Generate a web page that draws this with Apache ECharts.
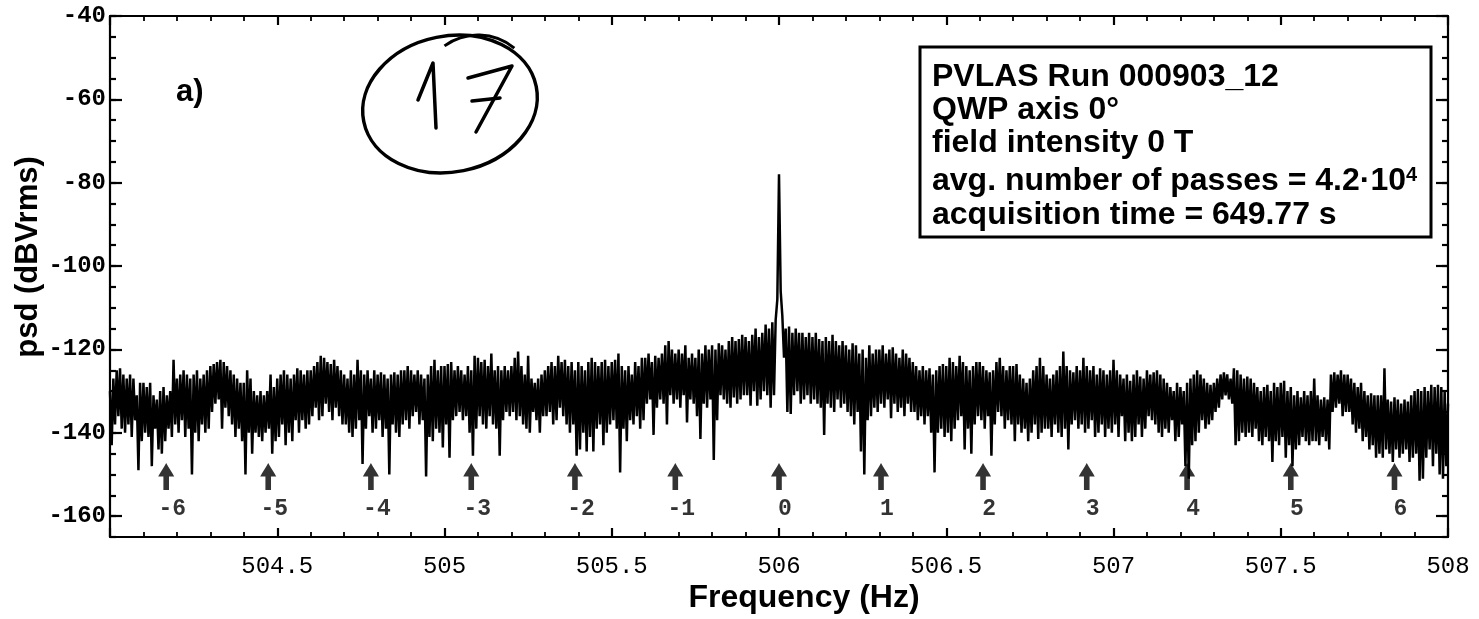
<!DOCTYPE html>
<html>
<head>
<meta charset="utf-8">
<style>
  html, body { margin: 0; padding: 0; background: #fff; }
  #chart { width: 1479px; height: 619px; }
</style>
<script src="https://cdn.jsdelivr.net/npm/echarts@6/dist/echarts.min.js"></script>
</head>
<body>
<div id="chart"></div>
<script>
// Power spectral density around the 506 Hz modulation line.
// Each 0.01 Hz bin holds the local maximum (upper) followed by the local minimum (lower).
const FREQ_START = 504.0;
const BIN = 0.01;

const PSD_UPPER = [
  -130, -127, -125, -124.5, -126, -127, -126, -127, -131, -128,
  -128, -129, -128, -131, -132, -130, -129, -131, -130, -122.5,
  -127, -126, -125, -126, -127, -126, -125, -127, -126, -125,
  -124, -123.5, -123, -122.5, -123, -124, -125, -126, -127, -128,
  -128, -125, -127, -130, -131, -130, -131, -130, -126, -129,
  -127, -126, -125, -126, -127, -126, -124.5, -125, -126, -125,
  -125, -124, -123, -121.5, -122, -123, -123.5, -122.5, -124, -125,
  -126, -127, -125, -126, -122.5, -125, -126, -125, -127, -125,
  -126, -125.5, -126, -127, -126, -125.5, -126, -125, -125, -124,
  -125, -126, -125, -126, -127, -126, -124, -122.5, -125, -124,
  -124, -123.5, -123, -125, -124, -125, -126, -124, -125, -121.5,
  -122, -123, -122.5, -124, -121, -125, -124, -125, -124, -125,
  -124, -122, -120.5, -124, -126, -121.5, -127, -128, -127, -126,
  -125, -124, -123, -124, -121.5, -123, -122.5, -124, -123, -125,
  -123, -124, -125, -123, -122, -123, -124, -123, -122.5, -124,
  -123, -122.5, -121, -124, -125, -124, -126, -123, -124, -122,
  -122, -121, -123, -121.5, -122, -121, -119, -118, -120, -121,
  -120, -121, -119, -122, -121, -122, -120, -121, -119, -120,
  -119, -120, -118.5, -119, -120, -118, -117, -118, -117.5, -116.5,
  -117, -118, -116.5, -115, -117, -116, -114, -115, -113.5, -113,
  -78, -112, -115, -114.5, -116, -115, -116, -116, -117, -116,
  -117, -116, -117.5, -118, -117, -118, -116.5, -118, -119, -118,
  -119, -120, -118.5, -119, -121, -120, -122, -119, -121, -120,
  -120, -119, -121, -120, -119.5, -121, -122, -120, -121, -122,
  -123, -124, -125, -124, -125, -124.5, -126, -125, -124, -123.5,
  -124, -122, -123, -124, -121.5, -123, -124, -125, -124, -123,
  -123, -124, -125, -125.5, -125, -123, -122, -124, -125, -124,
  -124, -123.5, -126, -127, -128, -127, -125, -124, -122, -124,
  -126, -127, -126, -125, -124, -120.5, -124, -125, -125.5, -124,
  -125, -122, -124, -125, -124, -126, -124.5, -125, -126, -125,
  -122.5, -125, -126, -127, -126, -127.5, -126, -125, -126.5, -127,
  -125, -126, -125.5, -125, -126, -127, -128, -129, -130, -128,
  -129, -130, -128, -127, -126, -125, -126, -127, -128, -128.5,
  -128, -127, -126, -125.5, -126, -127, -124.5, -125, -126, -127,
  -126.5, -127, -128, -129, -130, -129, -128.5, -130, -128, -129,
  -128, -127.5, -130, -129, -131, -130, -131.5, -130, -131, -130,
  -127, -131, -132, -131.5, -132, -126, -125.5, -126, -125, -126,
  -126, -127, -128, -129, -128, -130, -131, -130.5, -131, -131,
  -131, -124.5, -132, -132.5, -131.5, -132, -133, -132, -132.5, -131,
  -130, -129.5, -130, -129, -130, -128.5, -129, -128.5, -129, -130
];

const PSD_LOWER = [
  -143, -138, -136, -139, -140, -138, -141, -137, -149, -142,
  -140, -141, -148, -139, -144, -145, -142, -139, -141, -138,
  -140, -137, -141, -139, -150, -140, -142, -138, -140, -139,
  -135, -133, -132, -139, -134, -136, -138, -141, -139, -142,
  -150, -140, -145, -140, -141, -142, -140, -139, -145, -142,
  -141, -138, -143, -140, -142, -137, -140, -137, -139, -138,
  -136, -134, -137, -136, -133, -135, -137, -134, -136, -138,
  -138, -140, -141, -139, -137, -147.5, -139, -136, -140, -139,
  -137, -141, -139, -150, -138, -140, -141, -138, -137, -139,
  -136, -135, -138, -137, -150.5, -141, -142, -139, -140, -143.5,
  -138, -146, -137, -136, -135, -137, -136, -140, -145.5, -139,
  -136, -138, -139, -136, -138, -139, -145.5, -137, -135, -136,
  -135, -137, -136, -138, -139, -140, -135, -137, -140, -136,
  -136, -135, -138, -137, -134, -136, -138, -140, -138, -145.5,
  -144, -140, -144.5, -141, -144.5, -139, -138, -143, -140, -138,
  -137, -139, -149.5, -139, -142, -137, -138, -136, -139, -137,
  -133, -132, -140.5, -134, -132, -133, -138, -131, -133, -132,
  -134, -131, -137.5, -132, -133, -136, -141.5, -133, -134, -132,
  -146.5, -137, -131, -132, -133, -134, -131.5, -133, -132, -131,
  -131, -133.5, -130, -133.5, -132, -130, -131, -134, -131, -108,
  -106, -122, -135, -135.5, -131, -130, -133, -132, -131, -133,
  -132, -133, -134, -140.5, -133, -134, -135, -132, -134, -133,
  -135, -136, -138, -135, -144.5, -150, -137, -136, -134, -135,
  -133, -134, -132, -136.5, -133, -135, -134, -136, -133, -135,
  -135, -137, -136, -138, -136, -140, -149.5, -140, -139, -141,
  -140, -142, -139, -137, -136, -144, -139, -145, -138, -136,
  -137, -139, -136, -145.5, -138, -135, -136, -139, -137, -138,
  -142, -138, -140, -139, -142, -140, -138, -141.5, -140, -139,
  -139, -141, -138, -140, -141, -139, -144, -138, -137, -139,
  -138, -140, -139, -137, -141, -140, -138, -141, -139, -140,
  -138, -141, -136, -142, -140, -142, -141, -138, -141, -139,
  -136, -137, -138, -140, -141, -139, -140, -137, -142, -141,
  -138, -148, -151, -143, -142, -140, -137, -139, -138, -137,
  -135, -134, -132, -131, -132, -133, -143, -142, -140, -141,
  -140, -141, -139, -142, -143, -141, -142, -147, -142, -143,
  -141, -146, -143, -148, -144, -143, -141, -142, -143, -142,
  -142, -143, -141, -142, -144, -135, -134, -133, -136, -135,
  -135, -138, -140, -139, -142, -141, -144, -143, -146, -145,
  -146, -144, -145, -147, -144, -146, -145, -144, -147, -146,
  -145, -151.5, -151, -146, -144, -148, -145, -150, -151, -148
];
const PSD_END = -133;

// Sideband markers: order number and frequency (Hz)
const ARROW_ORDERS = [-6, -5, -4, -3, -2, -1, 0, 1, 2, 3, 4, 5, 6];
const ARROW_FREQS = [504.168, 504.473, 504.78, 505.08, 505.39, 505.69, 506.0,
                     506.305, 506.61, 506.92, 507.22, 507.53, 507.84];
const ARROW_LEVEL = -150.5;

const Y_MAJOR_TICKS = [-160, -140, -120, -100, -80, -60, -40];

const INFO_LINES = [
  'PVLAS Run 000903_12',
  'QWP axis 0°',
  'field intensity 0 T',
  'avg. number of passes = 4.2·10{s|4}',
  'acquisition time = 649.77 s'
];
const INFO_ROWS_Y = [77, 110, 143, 181, 215];

const trace = [];
PSD_UPPER.forEach(function (v, i) {
  const f = FREQ_START + i * BIN;
  trace.push([+f.toFixed(3), v]);
  trace.push([+(f + BIN / 2).toFixed(3), PSD_LOWER[i]]);
});
trace.push([508, PSD_END]);

const INK = '#000';
const MONO = '"Liberation Mono", "DejaVu Sans Mono", monospace';
const SANS = '"Liberation Sans", Arial, sans-serif';

const chart = echarts.init(document.getElementById('chart'), null, { renderer: 'canvas' });

const yBase = { type: 'value', min: -165, max: -40, interval: 5, splitLine: { show: false } };
const xBase = { type: 'value', min: 504, max: 508, interval: 0.5, splitLine: { show: false } };
const frameLine = { color: INK, width: 2.2 };

const infoGraphics = INFO_LINES.map(function (t, i) {
  return {
    type: 'text', x: 932, y: INFO_ROWS_Y[i], z: 20,
    style: {
      text: t, fill: INK, font: 'bold 32px ' + SANS,
      verticalAlign: 'middle',
      rich: { s: { fontSize: 20, fontWeight: 'bold', fontFamily: SANS, verticalAlign: 'top', fill: INK } }
    }
  };
});

chart.setOption({
  animation: false,
  backgroundColor: '#fff',
  grid: { left: 110, right: 31, top: 16, bottom: 82, containLabel: false },
  xAxis: [
    Object.assign({}, xBase, {
      position: 'bottom',
      axisLine: { show: true, lineStyle: frameLine },
      axisTick: { show: true, inside: true, length: 9, lineStyle: frameLine },
      minorTick: { show: true, splitNumber: 5, length: 5, lineStyle: { color: INK, width: 1.8 } },
      axisLabel: {
        show: true, showMinLabel: false, margin: 18, color: INK,
        fontFamily: MONO, fontSize: 24,
        formatter: function (v) { return String(v); }
      }
    }),
    Object.assign({}, xBase, {
      position: 'top',
      axisLine: { show: true, lineStyle: frameLine },
      axisTick: { show: true, inside: true, length: 9, lineStyle: frameLine },
      minorTick: { show: true, splitNumber: 5, length: 5, lineStyle: { color: INK, width: 1.8 } },
      axisLabel: { show: false }
    })
  ],
  yAxis: [
    Object.assign({}, yBase, {
      position: 'left',
      axisLine: { show: true, lineStyle: frameLine },
      axisTick: { show: true, inside: true, length: 6, lineStyle: frameLine },
      axisLabel: {
        show: true, margin: 4, color: INK, fontFamily: MONO, fontSize: 24, fontWeight: 'bold',
        formatter: function (v) { return v % 20 === 0 ? String(v) : ''; }
      }
    }),
    Object.assign({}, yBase, {
      position: 'left',
      axisLine: { show: false },
      axisTick: { show: true, inside: true, length: 12, lineStyle: frameLine, customValues: Y_MAJOR_TICKS },
      axisLabel: { show: false }
    }),
    Object.assign({}, yBase, {
      position: 'right',
      axisLine: { show: true, lineStyle: frameLine },
      axisTick: { show: true, inside: true, length: 6, lineStyle: frameLine },
      axisLabel: { show: false }
    }),
    Object.assign({}, yBase, {
      position: 'right',
      axisLine: { show: false },
      axisTick: { show: true, inside: true, length: 12, lineStyle: frameLine, customValues: Y_MAJOR_TICKS },
      axisLabel: { show: false }
    })
  ],
  series: [
    {
      name: 'psd',
      type: 'line',
      xAxisIndex: 0, yAxisIndex: 0,
      data: trace,
      showSymbol: false,
      symbol: 'none',
      lineStyle: { color: INK, width: 2.5, join: 'miter' },
      z: 3
    },
    {
      name: 'sidebands',
      type: 'scatter',
      xAxisIndex: 0, yAxisIndex: 0,
      data: ARROW_FREQS.map(function (f, i) { return [f, ARROW_LEVEL, ARROW_ORDERS[i]]; }),
      symbol: 'path://M8,0 C10,4 14,9 16,13 L10.8,13 L10.8,26 L5.2,26 L5.2,13 L0,13 C2,9 6,4 8,0 Z',
      symbolSize: [16, 27],
      itemStyle: { color: INK },
      label: {
        show: true, position: 'bottom', distance: 8, offset: [6, 0],
        color: INK, fontFamily: MONO, fontSize: 23, fontWeight: 'bold',
        formatter: function (p) { return String(p.value[2]); }
      },
      z: 5
    }
  ],
  graphic: [
    // panel tag
    { type: 'text', x: 176, y: 92, z: 20,
      style: { text: 'a)', fill: INK, font: 'bold 31px ' + SANS, verticalAlign: 'middle' } },
    // axis titles
    { type: 'text', x: 28, y: 257, rotation: Math.PI / 2, z: 20,
      style: { text: 'psd (dBVrms)', fill: INK, font: 'bold 31px ' + SANS,
               align: 'center', verticalAlign: 'middle' } },
    { type: 'text', x: 804, y: 598, z: 20,
      style: { text: 'Frequency (Hz)', fill: INK, font: 'bold 32px ' + SANS,
               align: 'center', verticalAlign: 'middle' } },
    // run information box
    { type: 'rect', z: 15, shape: { x: 920, y: 47, width: 511, height: 190 },
      style: { fill: '#fff', stroke: INK, lineWidth: 3 } }
  ].concat(infoGraphics).concat([
    // circled page number
    { type: 'ellipse', z: 20, x: 450, y: 104, rotation: 0.2,
      shape: { cx: 0, cy: 0, rx: 88, ry: 68 },
      style: { fill: null, stroke: INK, lineWidth: 3.5 } },
    { type: 'arc', z: 20, x: 478, y: 92,
      shape: { cx: 0, cy: 0, r: 57, startAngle: Math.PI * 1.3, endAngle: Math.PI * 1.72 },
      style: { fill: null, stroke: INK, lineWidth: 3 } },
    { type: 'polyline', z: 20,
      shape: { points: [[418, 100], [433, 63], [436, 128]] },
      style: { fill: null, stroke: INK, lineWidth: 3.5, lineJoin: 'round', lineCap: 'round' } },
    { type: 'polyline', z: 20,
      shape: { points: [[468, 78], [512, 66], [476, 132]] },
      style: { fill: null, stroke: INK, lineWidth: 3.5, lineJoin: 'round', lineCap: 'round' } },
    { type: 'polyline', z: 20,
      shape: { points: [[472, 101], [500, 98]] },
      style: { fill: null, stroke: INK, lineWidth: 3.5, lineCap: 'round' } }
  ])
});
</script>
</body>
</html>
